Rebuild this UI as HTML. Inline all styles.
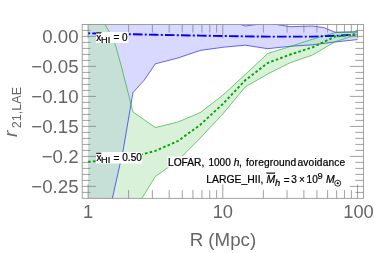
<!DOCTYPE html>
<html><head><meta charset="utf-8"><title>plot</title>
<style>
html,body{margin:0;padding:0;background:#fff;}
body{width:374px;height:253px;overflow:hidden;}
svg{display:block;will-change:transform;}
text{font-family:"Liberation Sans",sans-serif;}
</style></head><body>
<svg width="374" height="253" viewBox="0 0 374 253">
<rect x="0" y="0" width="374" height="253" fill="#ffffff"/>
<defs><clipPath id="c"><rect x="82.2" y="24.4" width="281.4" height="173.9"/></clipPath></defs>
<g clip-path="url(#c)">
<clipPath id="bclip"><polygon points="88.1,5.0 110.5,5.0 133.0,5.0 155.4,5.0 177.9,8.0 200.3,12.0 222.8,18.0 245.2,26.0 267.7,23.0 290.1,26.7 312.6,26.0 323.8,27.6 335.0,32.2 357.5,32.0 357.5,39.6 335.0,42.0 312.6,44.8 290.1,46.3 267.7,48.7 245.2,45.2 222.8,47.3 200.3,50.4 177.9,58.0 155.4,63.8 144.1,80.3 133.0,92.5 123.2,150.0 110.5,206.6 88.1,330.0"/></clipPath>
<polygon points="88.1,5.0 110.5,5.0 133.0,5.0 155.4,5.0 177.9,8.0 200.3,12.0 222.8,18.0 245.2,26.0 267.7,23.0 290.1,26.7 312.6,26.0 323.8,27.6 335.0,32.2 357.5,32.0 357.5,39.6 335.0,42.0 312.6,44.8 290.1,46.3 267.7,48.7 245.2,45.2 222.8,47.3 200.3,50.4 177.9,58.0 155.4,63.8 144.1,80.3 133.0,92.5 123.2,150.0 110.5,206.6 88.1,330.0" fill="rgb(217,217,255)" stroke="none"/>
<polygon points="88.1,-5.3 110.5,34.0 115.5,45.0 121.7,67.5 133.0,111.9 155.4,127.6 177.9,122.0 200.3,112.5 222.8,95.2 245.2,74.5 267.7,53.5 290.1,46.5 312.6,39.2 335.0,32.6 357.5,31.5 357.5,34.5 335.0,41.8 312.6,55.0 290.1,62.8 267.7,74.0 245.2,87.0 222.8,114.0 200.3,138.0 177.9,160.5 155.4,176.5 133.0,212.5 110.5,262.0 88.1,330.0" fill="rgb(217,241,217)" stroke="none"/>
<g clip-path="url(#bclip)"><polygon points="88.1,-5.3 110.5,34.0 115.5,45.0 121.7,67.5 133.0,111.9 155.4,127.6 177.9,122.0 200.3,112.5 222.8,95.2 245.2,74.5 267.7,53.5 290.1,46.5 312.6,39.2 335.0,32.6 357.5,31.5 357.5,34.5 335.0,41.8 312.6,55.0 290.1,62.8 267.7,74.0 245.2,87.0 222.8,114.0 200.3,138.0 177.9,160.5 155.4,176.5 133.0,212.5 110.5,262.0 88.1,330.0" fill="rgb(198,223,215)" stroke="none"/></g>
<path d="M88.1,5.0 L110.5,5.0 L133.0,5.0 L155.4,5.0 L177.9,8.0 L200.3,12.0 L222.8,18.0 L245.2,26.0 L267.7,23.0 L290.1,26.7 L312.6,26.0 L323.8,27.6 L335.0,32.2 L357.5,32.0" fill="none" stroke="#0000ff" stroke-opacity="0.65" stroke-width="0.9"/>
<path d="M88.1,330.0 L110.5,206.6 L123.2,150.0 L133.0,92.5 L144.1,80.3 L155.4,63.8 L177.9,58.0 L200.3,50.4 L222.8,47.3 L245.2,45.2 L267.7,48.7 L290.1,46.3 L312.6,44.8 L335.0,42.0 L357.5,39.6" fill="none" stroke="#0000ff" stroke-opacity="0.65" stroke-width="0.9"/>
<path d="M88.1,-5.3 L110.5,34.0 L115.5,45.0 L121.7,67.5 L133.0,111.9 L155.4,127.6 L177.9,122.0 L200.3,112.5 L222.8,95.2 L245.2,74.5 L267.7,53.5 L290.1,46.5 L312.6,39.2 L335.0,32.6 L357.5,31.5" fill="none" stroke="#00a000" stroke-opacity="0.6" stroke-width="0.9"/>
<path d="M88.1,330.0 L110.5,262.0 L133.0,212.5 L155.4,176.5 L177.9,160.5 L200.3,138.0 L222.8,114.0 L245.2,87.0 L267.7,74.0 L290.1,62.8 L312.6,55.0 L335.0,41.8 L357.5,34.5" fill="none" stroke="#00a000" stroke-opacity="0.6" stroke-width="0.9"/>
<path d="M88.1,33.3 L97,33.5" fill="none" stroke="#0000ff" stroke-width="1.9" stroke-dasharray="2 2.2 9.6 2.2"/>
<path d="M128.8,34.2 L133.0,34.3 L155.4,34.8 L177.9,35.2 L200.3,35.6 L222.8,36.0 L245.2,36.4 L267.7,36.6 L290.1,36.6 L312.6,36.6 L335.0,35.8 L357.5,34.5" fill="none" stroke="#0000ff" stroke-width="1.9" stroke-dasharray="2 2.2 9.6 2.2"/>
<path d="M88.1,161.8 L110.5,160.0 L133.0,156.6 L155.4,150.9 L177.9,141.0 L200.3,124.8 L222.8,104.0 L245.2,80.3 L267.7,63.0 L290.1,54.5 L312.6,47.3 L335.0,36.6 L357.5,34.2" fill="none" stroke="#00a600" stroke-width="1.9" stroke-dasharray="2.6 2.2"/>
</g>
<path d="M82.2,30.40h8.2M363.6,30.40h-8.2M82.2,36.40h13.8M363.6,36.40h-13.8M82.2,42.40h8.2M363.6,42.40h-8.2M82.2,48.40h8.2M363.6,48.40h-8.2M82.2,54.40h8.2M363.6,54.40h-8.2M82.2,60.40h8.2M363.6,60.40h-8.2M82.2,66.40h13.8M363.6,66.40h-13.8M82.2,72.40h8.2M363.6,72.40h-8.2M82.2,78.40h8.2M363.6,78.40h-8.2M82.2,84.40h8.2M363.6,84.40h-8.2M82.2,90.40h8.2M363.6,90.40h-8.2M82.2,96.40h13.8M363.6,96.40h-13.8M82.2,102.40h8.2M363.6,102.40h-8.2M82.2,108.40h8.2M363.6,108.40h-8.2M82.2,114.40h8.2M363.6,114.40h-8.2M82.2,120.40h8.2M363.6,120.40h-8.2M82.2,126.40h13.8M363.6,126.40h-13.8M82.2,132.40h8.2M363.6,132.40h-8.2M82.2,138.40h8.2M363.6,138.40h-8.2M82.2,144.40h8.2M363.6,144.40h-8.2M82.2,150.40h8.2M363.6,150.40h-8.2M82.2,156.40h13.8M363.6,156.40h-13.8M82.2,162.40h8.2M363.6,162.40h-8.2M82.2,168.40h8.2M363.6,168.40h-8.2M82.2,174.40h8.2M363.6,174.40h-8.2M82.2,180.40h8.2M363.6,180.40h-8.2M82.2,186.40h13.8M363.6,186.40h-13.8M82.2,192.40h8.2M363.6,192.40h-8.2M88.10,198.3v-13.8M88.10,24.4v13.8M128.65,198.3v-8.2M128.65,24.4v8.2M152.37,198.3v-8.2M152.37,24.4v8.2M169.20,198.3v-8.2M169.20,24.4v8.2M182.25,198.3v-8.2M182.25,24.4v8.2M192.92,198.3v-8.2M192.92,24.4v8.2M201.93,198.3v-8.2M201.93,24.4v8.2M209.75,198.3v-8.2M209.75,24.4v8.2M216.64,198.3v-8.2M216.64,24.4v8.2M222.80,198.3v-13.8M222.80,24.4v13.8M263.35,198.3v-8.2M263.35,24.4v8.2M287.07,198.3v-8.2M287.07,24.4v8.2M303.90,198.3v-8.2M303.90,24.4v8.2M316.95,198.3v-8.2M316.95,24.4v8.2M327.62,198.3v-8.2M327.62,24.4v8.2M336.63,198.3v-8.2M336.63,24.4v8.2M344.45,198.3v-8.2M344.45,24.4v8.2M351.34,198.3v-8.2M351.34,24.4v8.2M357.50,198.3v-13.8M357.50,24.4v13.8" fill="none" stroke="#787878" stroke-width="0.7"/>
<rect x="82.2" y="24.4" width="281.4" height="173.9" fill="none" stroke="#8a8a8a" stroke-width="0.8"/>
<text x="78.6" y="42.9" font-size="18.7" fill="#666666" text-anchor="end">0.00</text>
<text x="78.6" y="72.9" font-size="18.7" fill="#666666" text-anchor="end">−0.05</text>
<text x="78.6" y="102.9" font-size="18.7" fill="#666666" text-anchor="end">−0.10</text>
<text x="78.6" y="132.9" font-size="18.7" fill="#666666" text-anchor="end">−0.15</text>
<text x="78.6" y="162.9" font-size="18.7" fill="#666666" text-anchor="end">−0.2</text>
<text x="78.6" y="192.9" font-size="18.7" fill="#666666" text-anchor="end">−0.25</text>
<text x="88.1" y="218.4" font-size="18.3" fill="#666666" text-anchor="middle">1</text>
<text x="222.8" y="218.4" font-size="18.3" fill="#666666" text-anchor="middle">10</text>
<text x="358.5" y="218.4" font-size="18.3" fill="#666666" text-anchor="middle">100</text>
<text x="222.9" y="245.6" font-size="18.7" fill="#666666" text-anchor="middle">R (Mpc)</text>
<g transform="translate(17.4,137) rotate(-90)" fill="#666666"><text x="0" y="0" font-size="19" font-style="italic">r</text><text x="8.8" y="3.4" font-size="12.6">21,LAE</text></g>
<rect x="96.1" y="32" width="32.3" height="11" fill="#fff"/>
<g fill="#000" stroke="#000" stroke-width="0.22"><text x="96.2" y="41.1" font-size="10">x</text><rect x="96.3" y="32.4" width="5.0" height="0.9"/><text x="101.0" y="42.6" font-size="9.2">HI</text><text x="113.5" y="41.4" font-size="10">=</text><text x="122.1" y="40.9" font-size="10">0</text></g>
<rect x="96.0" y="152" width="46.2" height="11.5" fill="#fff"/>
<g fill="#000" stroke="#000" stroke-width="0.22"><text x="96.4" y="161.3" font-size="10">x</text><rect x="96.3" y="152.9" width="5.0" height="0.9"/><text x="101.0" y="163.2" font-size="9.2">HI</text><text x="113.6" y="161.8" font-size="10">=</text><text x="122.3" y="161.3" font-size="10">0.50</text></g>
<rect x="167.4" y="156.5" width="178.5" height="11" fill="#fff"/>
<g fill="#000" stroke="#000" stroke-width="0.22" font-size="10.2"><text x="168.0" y="165.5">LOFAR,</text><text x="208.5" y="165.5" font-size="10">1000</text><text x="233.7" y="165.5" font-style="italic">h</text><text x="239.0" y="165.5">,</text><text x="245.9" y="165.5" textLength="50.3">foreground</text><text x="297.5" y="165.5" textLength="47.7">avoidance</text></g>
<g fill="#000" stroke="#000" stroke-width="0.22" font-size="10.4"><text x="206.3" y="182.8">LARGE_HII,</text><text x="266.6" y="182.8" font-style="italic">M</text><rect x="266.8" y="172.7" width="8.2" height="0.9"/><text x="275.0" y="185.6" font-size="9.4" font-style="italic">h</text><text x="283.8" y="183.5" font-size="10">=</text><text x="291.3" y="182.8" font-size="10">3</text><text x="299.0" y="182.8" font-size="10">×</text><text x="306.6" y="182.8" font-size="10">10</text><text x="317.5" y="179.4" font-size="9.3">9</text><text x="326.0" y="182.8" font-style="italic">M</text><circle cx="337.7" cy="183.2" r="3.0" fill="none" stroke="#000" stroke-width="0.8"/><circle cx="337.7" cy="183.2" r="0.9" fill="#000"/></g>
</svg></body></html>
